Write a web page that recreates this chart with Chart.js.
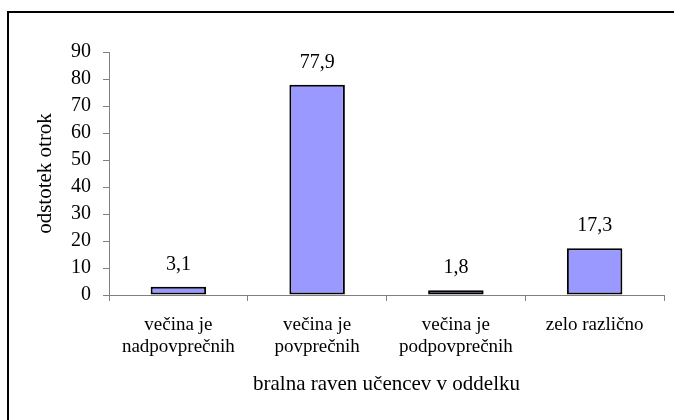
<!DOCTYPE html>
<html>
<head>
<meta charset="utf-8">
<script src="https://cdn.jsdelivr.net/npm/chart.js@4/dist/chart.umd.min.js"></script>
<style>
html,body{margin:0;padding:0;background:#fff;}
#wrap{position:relative;width:674px;height:420px;overflow:hidden;background:#fff;}
#frame{position:absolute;left:7px;top:11px;width:720px;height:460px;border-left:2px solid #000;border-top:2px solid #000;}
canvas{position:absolute;left:0;top:0;}
#pre{position:absolute;left:-9999px;top:0;font-family:"Liberation Serif";font-size:20px;}
</style>
</head>
<body>
<div id="pre">večina je 0123456789</div>
<div id="wrap"><div id="frame"></div><canvas id="c" width="674" height="420"></canvas></div>
<script>
const categories = [["večina je","nadpovprečnih"],["večina je","povprečnih"],["večina je","podpovprečnih"],["zelo različno"]];
const values = [3.1, 77.9, 1.8, 17.3];
const valueLabels = ["3,1","77,9","1,8","17,3"];
const yTicks = [0,10,20,30,40,50,60,70,80,90];
const xTitle = "bralna raven učencev v oddelku";
const yTitle = "odstotek otrok";

const FONT = '"Liberation Serif"';
const AXIS = "#808080";

const valueLabelPlugin = {
  id: 'valueLabels',
  afterDatasetsDraw(chart) {
    const ctx = chart.ctx;
    const meta = chart.getDatasetMeta(0);
    ctx.save();
    ctx.font = '20px "Liberation Serif"';
    ctx.fillStyle = "#000";
    ctx.textAlign = "center";
    ctx.textBaseline = "alphabetic";
    meta.data.forEach((bar, i) => {
      ctx.fillText(valueLabels[i], bar.x, bar.y - 17);
    });
    ctx.restore();
  }
};

function draw() {
  new Chart(document.getElementById('c'), {
    type: 'bar',
    data: {
      labels: categories,
      datasets: [{
        data: values,
        backgroundColor: '#9999FF',
        borderColor: '#000000',
        borderWidth: 2,
        borderSkipped: false,
        categoryPercentage: 1.0,
        barPercentage: 0.4
      }]
    },
    options: {
      responsive: false,
      animation: false,
      devicePixelRatio: 1,
      layout: { padding: { left: 0, top: 52, right: 10, bottom: 0 } },
      plugins: { legend: { display: false }, tooltip: { enabled: false } },
      scales: {
        x: {
          type: 'category',
          offset: true,
          grid: { offset: true, drawOnChartArea: false, drawTicks: true, tickLength: 6, color: AXIS, lineWidth: 1 },
          border: { display: true, color: AXIS, width: 1 },
          ticks: { color: '#000', padding: 13, maxRotation: 0, autoSkip: false, font: { family: FONT, size: 19, lineHeight: 1.16 } },
          title: { display: true, text: xTitle, color: '#000', font: { family: FONT, size: 21, lineHeight: 1.2 }, padding: { top: 0, bottom: 23 } },
          afterFit(scale) { scale.height = 125; }
        },
        y: {
          min: 0, max: 90,
          afterBuildTicks(scale) { scale.ticks = yTicks.map(v => ({ value: v })); },
          grid: { drawOnChartArea: false, drawTicks: true, tickLength: 6, color: AXIS, lineWidth: 1 },
          border: { display: true, color: AXIS, width: 1 },
          ticks: { color: '#000', padding: 12, font: { family: FONT, size: 20 } },
          title: { display: true, text: yTitle, color: '#000', font: { family: FONT, size: 21, lineHeight: 1.2 }, padding: { top: 33, bottom: 0 } },
          afterFit(scale) { scale.width = 109; }
        }
      }
    },
    plugins: [valueLabelPlugin]
  });
}

if (document.fonts && document.fonts.load) {
  Promise.all([
    document.fonts.load('20px "Liberation Serif"', 'večina 0123456789'),
  ]).then(draw, draw);
} else {
  draw();
}
</script>
</body>
</html>
